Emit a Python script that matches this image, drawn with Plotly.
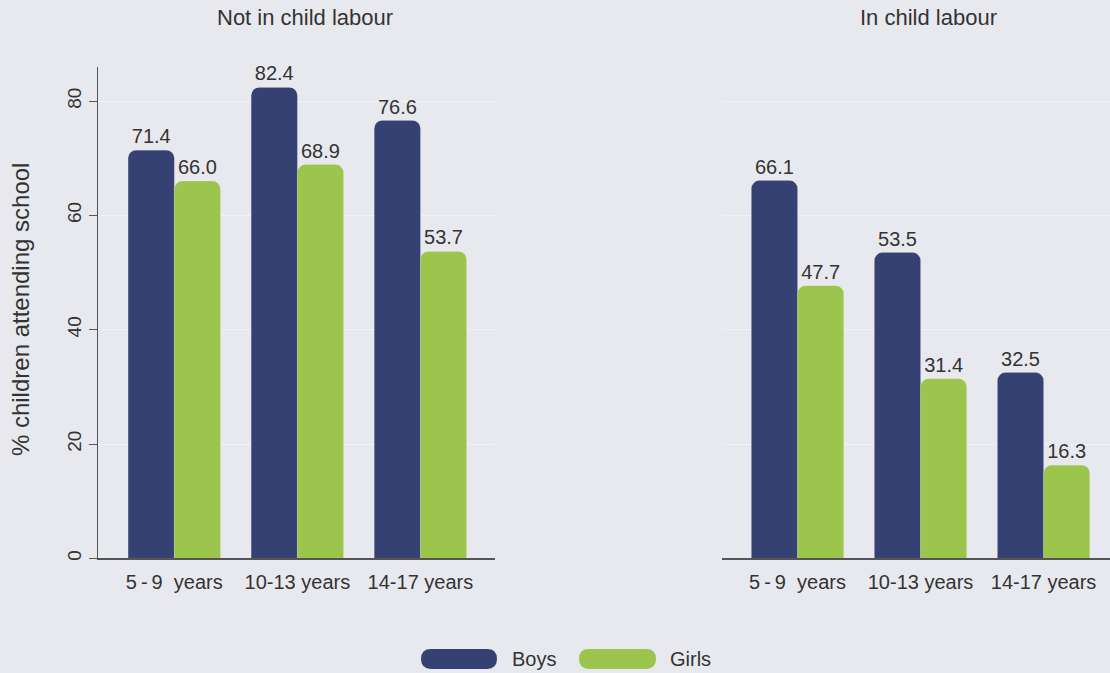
import plotly.graph_objects as go

categories = ["5\u2009-\u20099\u00a0\u00a0years", "10-13 years", "14-17 years"]
boys_not = [71.4, 82.4, 76.6]
girls_not = [66.0, 68.9, 53.7]
boys_in = [66.1, 53.5, 32.5]
girls_in = [47.7, 31.4, 16.3]
panel_titles = ["Not in child labour", "In child labour"]
series_names = ["Boys", "Girls"]
y_ticks = [0, 20, 40, 60, 80]

BOYS = "#344172"
GIRLS = "#9cc54e"
BG = "#e8e9ee"
TXT = "#333333"
FONT = "Liberation Sans"
W, H = 1110, 673

fig = go.Figure()

def add(vals, color, xa, ya):
    fig.add_trace(go.Bar(
        x=categories, y=vals, xaxis=xa, yaxis=ya,
        marker=dict(color=color, line=dict(color="rgba(255,255,255,0.15)", width=0.8)),
        text=[f"{v:.1f}" for v in vals], textposition="outside",
        textfont=dict(size=20, color=TXT, family=FONT),
        cliponaxis=False, showlegend=False, hoverinfo="skip"))

add(boys_not, BOYS, "x", "y")
add(girls_not, GIRLS, "x", "y")
add(boys_in, BOYS, "x2", "y2")
add(girls_in, GIRLS, "x2", "y2")

ydom = [1 - 560 / H, 1 - 67 / H]
yr = [0, 86]

fig.update_layout(
    width=W, height=H, margin=dict(l=0, r=0, t=0, b=0),
    paper_bgcolor=BG, plot_bgcolor=BG,
    barmode="group", bargap=0.25, bargroupgap=0, barcornerradius=8,
    font=dict(family=FONT, color=TXT, size=20),
    xaxis=dict(domain=[98 / W, 495 / W], range=[-0.62, 2.606], showline=True,
               linecolor="#555555", linewidth=1.5, ticks="", showgrid=False,
               ticklabelstandoff=5, tickfont=dict(size=20, color=TXT)),
    yaxis=dict(domain=ydom, range=yr, tickvals=y_ticks, showline=True,
               linecolor="#555555", linewidth=1.5, ticks="outside", ticklen=8,
               tickcolor="#555555", tickangle=-90, showgrid=True,
               gridcolor="#eef3f3", gridwidth=1, zeroline=False,
               tickfont=dict(size=19, color=TXT)),
    xaxis2=dict(domain=[722 / W, 1.0], range=[-0.614, 2.54], showline=True,
                linecolor="#555555", linewidth=1.5, ticks="", showgrid=False,
                ticklabelstandoff=5, tickfont=dict(size=20, color=TXT)),
    yaxis2=dict(domain=ydom, range=yr, tickvals=y_ticks, anchor="x2",
                showline=False, showticklabels=False, ticks="", showgrid=True,
                gridcolor="#eef3f3", gridwidth=1, zeroline=False),
)

def note(text, px, py, size, xanchor="center", angle=0):
    return dict(text=text, x=px / W, y=1 - py / H, xref="paper", yref="paper",
                xanchor=xanchor, yanchor="middle", textangle=angle, showarrow=False,
                font=dict(size=size, color=TXT))

ann = [
    note(panel_titles[0], 305, 18, 22),
    note(panel_titles[1], 928, 18, 22),
    note("% children attending school", 20, 310, 24, angle=-90),
    note(series_names[0], 510, 661, 20, xanchor="left"),
    note(series_names[1], 668, 661, 20, xanchor="left"),
]

def pill(x0, x1, y0, y1, color):
    r = (y1 - y0) / 2
    def P(px, py):
        return f"{px / W:.5f},{1 - py / H:.5f}"
    path = (f"M {P(x0 + r, y0)} L {P(x1 - r, y0)} Q {P(x1, y0)} {P(x1, y0 + r)} "
            f"Q {P(x1, y1)} {P(x1 - r, y1)} L {P(x0 + r, y1)} Q {P(x0, y1)} {P(x0, y0 + r)} "
            f"Q {P(x0, y0)} {P(x0 + r, y0)} Z")
    return dict(type="path", path=path, xref="paper", yref="paper",
                fillcolor=color, line=dict(width=0))

shapes = [pill(421, 497, 651, 671, BOYS), pill(579, 656, 651, 671, GIRLS)]

fig.update_layout(annotations=ann, shapes=shapes)
fig.write_html("out.html", config={"displayModeBar": False, "staticPlot": True})

with open("out.html", "r", encoding="utf-8") as f:
    html = f.read()
html = html.replace("<head>", "<head><style>html,body{margin:0;padding:0;overflow:hidden;background:%s}</style>" % BG, 1)
with open("out.html", "w", encoding="utf-8") as f:
    f.write(html)
